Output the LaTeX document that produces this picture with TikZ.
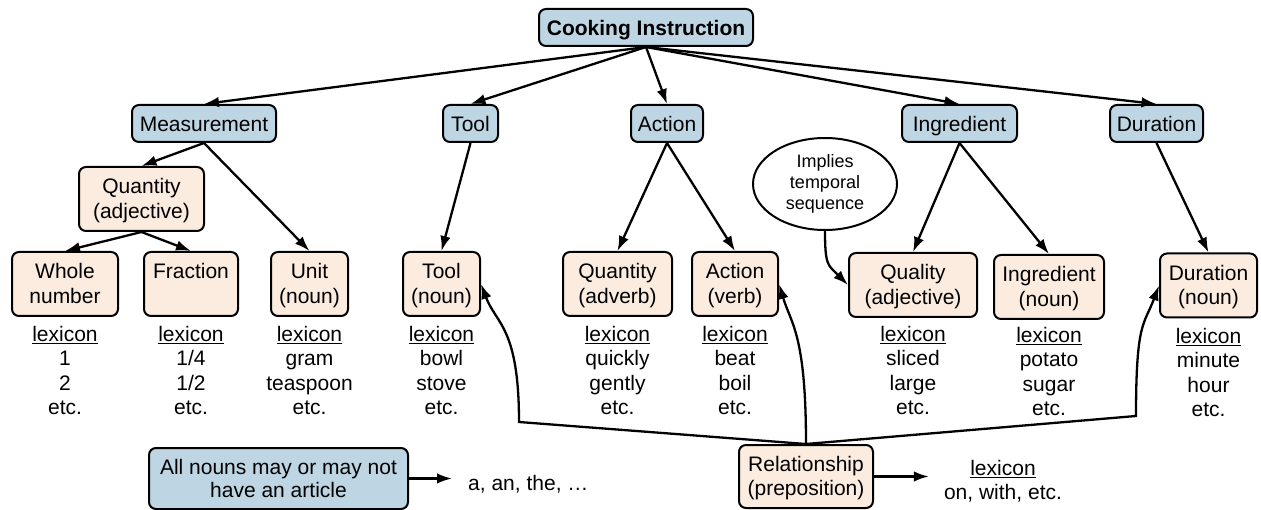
\documentclass[tikz,border=0pt]{standalone}
\usepackage{fontspec}
\setmainfont{Liberation Sans}
\usetikzlibrary{arrows.meta,shapes.geometric}
\definecolor{boxblue}{RGB}{190,214,227}
\definecolor{boxpeach}{RGB}{251,236,223}
\tikzset{
  basebox/.style={draw, line width=2pt, rounded corners=7pt, align=center, inner sep=0pt,
    font=\fontsize{21}{24.5}\selectfont},
  catbox/.style={basebox, fill=boxblue, minimum height=37pt},
  onerow/.style={text height=15.5pt, text depth=0pt},
  wordbox/.style={basebox, fill=boxpeach, minimum height=64pt, text depth=1pt},
  lexnode/.style={align=center, inner sep=0pt, anchor=north, font=\fontsize{21}{24.5}\selectfont},
  arr/.style={line width=2.3pt, -{Latex[length=15pt,width=10.5pt]}},
  notebubble/.style={draw, ellipse, line width=2pt, fill=white, inner sep=0pt, align=center,
    font=\fontsize{18}{21}\selectfont}
}
\begin{document}
\begin{tikzpicture}[x=1pt,y=-1pt]
\useasboundingbox (0,0) rectangle (1261,510);
% top
\node[catbox, onerow, minimum width=214pt] (ci) at (646,27.5) {\textbf{Cooking Instruction}};
% level 2
\node[catbox, onerow, minimum width=144pt] (meas) at (204,123.5) {Measurement};
\node[catbox, onerow, minimum width=55pt] (tool) at (470.5,123.5) {Tool};
\node[catbox, onerow, minimum width=72pt] (action) at (667,123.5) {Action};
\node[catbox, onerow, minimum width=115pt] (ingr) at (959.5,123.5) {Ingredient};
\node[catbox, onerow, minimum width=93pt] (dur) at (1156.5,123.5) {Duration};
% middle
\node[wordbox, minimum width=125pt] (qadj) at (141.5,199) {Quantity\\(adjective)};
\node[notebubble, minimum width=144pt, minimum height=92pt] (ell) at (825,184) {Implies\\temporal\\sequence};
% level 3
\node[wordbox, minimum width=106pt] (whole) at (65,284) {Whole\\number};
\node[wordbox, minimum width=94pt] (frac) at (191,284) {Fraction\\\phantom{(noun)}};
\node[wordbox, minimum width=77pt] (unit) at (309.5,284) {Unit\\(noun)};
\node[wordbox, minimum width=77pt] (toolnoun) at (441.5,284) {Tool\\(noun)};
\node[wordbox, minimum width=109pt] (qadv) at (617.5,284) {Quantity\\(adverb)};
\node[wordbox, minimum width=86pt] (averb) at (735,284) {Action\\(verb)};
\node[wordbox, minimum width=128pt] (quality) at (913,285) {Quality\\(adjective)};
\node[wordbox, minimum width=110pt] (ingnoun) at (1049,287) {Ingredient\\(noun)};
\node[wordbox, minimum width=97pt] (durnoun) at (1208.5,285.5) {Duration\\(noun)};
% lexicons
\node[lexnode] (lwhole) at (65,326) {\underline{lexicon}\\1\\2\\etc.};
\node[lexnode] (lfrac) at (191,326) {\underline{lexicon}\\1/4\\1/2\\etc.};
\node[lexnode] (lunit) at (309.5,326) {\underline{lexicon}\\gram\\teaspoon\\etc.};
\node[lexnode] (ltool) at (441.5,326) {\underline{lexicon}\\bowl\\stove\\etc.};
\node[lexnode] (lqadv) at (617.5,326) {\underline{lexicon}\\quickly\\gently\\etc.};
\node[lexnode] (laverb) at (735,326) {\underline{lexicon}\\beat\\boil\\etc.};
\node[lexnode] (lquality) at (913,326) {\underline{lexicon}\\sliced\\large\\etc.};
\node[lexnode] (lingnoun) at (1049,327) {\underline{lexicon}\\potato\\sugar\\etc.};
\node[lexnode] (ldurnoun) at (1208.5,328) {\underline{lexicon}\\minute\\hour\\etc.};
% bottom
\node[catbox, minimum width=259pt, minimum height=61pt, text depth=0pt, font=\fontsize{21}{23}\selectfont] (nouns) at (278.5,478.5) {All nouns may or may not\\have an article};
\node[anchor=base west, inner xsep=16pt, inner ysep=0pt, font=\fontsize{21}{24.5}\selectfont] (art) at (452,490) {a, an, the, …};
\node[wordbox, minimum width=134pt, minimum height=63pt] (rel) at (806,476.5) {Relationship\\(preposition)};
\node[lexnode, inner xsep=15pt] (rellex) at (1003,460) {\underline{lexicon}\\on, with, etc.};
\coordinate (ctool) at (519,422);
\coordinate (cdur) at (1136,416);
% connectors
\foreach \t in {meas,tool,action,ingr,dur} \draw[arr] (ci.south) -- (\t.north);
\draw[arr] (meas.south) -- (qadj.north);
\draw[arr] (meas.south) -- (unit.north);
\draw[arr] (qadj.south) -- (whole.north);
\draw[arr] (qadj.south) -- (frac.north);
\draw[arr] (tool.south) -- (toolnoun.north);
\draw[arr] (action.south) -- (qadv.north);
\draw[arr] (action.south) -- (averb.north);
\draw[arr] (ingr.south) -- (quality.north);
\draw[arr] (ingr.south) -- (ingnoun.north);
\draw[arr] (dur.south) -- (durnoun.north);
\draw[arr] (ell.south) .. controls +(0,35) and +(-20,-20) .. (quality.west);
\draw[arr] (rel.north) -- (ctool) .. controls +(0,-95) and +(15,40) .. (toolnoun.east);
\draw[arr] (rel.north) .. controls +(0,-110) and +(12,40) .. (averb.east);
\draw[arr] (rel.north) -- (cdur) .. controls +(0,-95) and +(-15,40) .. (durnoun.west);
\draw[arr] (nouns.east) -- (nouns.east -| art.west);
\draw[arr] (rel.east) -- (rel.east -| rellex.west);
\end{tikzpicture}
\end{document}
